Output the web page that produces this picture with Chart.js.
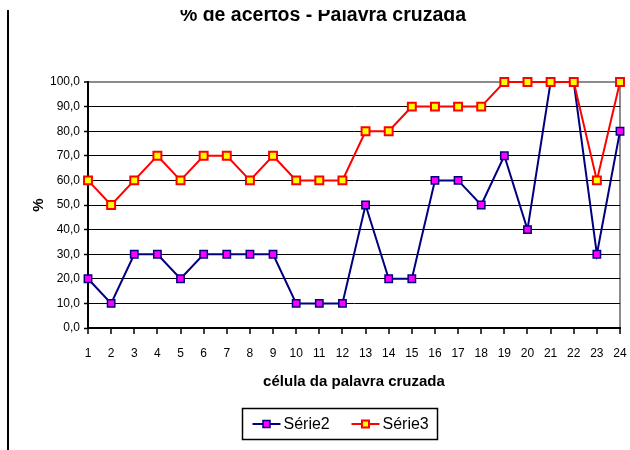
<!DOCTYPE html>
<html><head><meta charset="utf-8">
<style>html,body{margin:0;padding:0;background:#fff;}canvas{display:block;}</style>
<script src="https://cdn.jsdelivr.net/npm/chart.js@4.4.1/dist/chart.umd.min.js"></script>
</head><body>
<canvas id="c" width="630" height="450"></canvas>
<script>
const categories = ['1','2','3','4','5','6','7','8','9','10','11','12','13','14','15','16','17','18','19','20','21','22','23','24'];
const serie2 = [20,10,30,30,20,30,30,30,30,10,10,10,50,20,20,60,60,50,70,40,100,100,30,80];
const serie3 = [60,50,60,70,60,70,70,60,70,60,60,60,80,80,90,90,90,90,100,100,100,100,60,100];
const seriesNames = ['Série2','Série3'];
const chartTitle = '% de acertos - Palavra cruzada';
const xTitle = 'célula da palavra cruzada';
const yTitle = '%';
const yMin = 0, yMax = 100, yStep = 10;

const FONT = "'Liberation Sans', Arial, sans-serif";

const decor = {
  id: 'decor',
  afterDraw(chart) {
    const ctx = chart.ctx;
    ctx.save();
    // white band clipping the title top
    ctx.fillStyle = '#fff';
    ctx.fillRect(0, 0, chart.width, 10);
    // left frame line
    ctx.strokeStyle = '#000';
    ctx.lineWidth = 2;
    ctx.beginPath();
    ctx.moveTo(8, 10);
    ctx.lineTo(8, chart.height);
    ctx.stroke();
    // legend box
    const x0 = 242.5, y0 = 408.5, w = 195, h = 31;
    ctx.lineWidth = 1.5;
    ctx.strokeRect(x0, y0, w, h);
    const cy = y0 + h / 2;
    const offsets = [0, 99];
    chart.data.datasets.forEach((ds, i) => {
      const lx = x0 + 10 + offsets[i];
      ctx.strokeStyle = ds.borderColor;
      ctx.lineWidth = 2;
      ctx.beginPath();
      ctx.moveTo(lx, cy);
      ctx.lineTo(lx + 28, cy);
      ctx.stroke();
      const s = 7;
      ctx.fillStyle = ds.pointBackgroundColor;
      ctx.fillRect(lx + 14 - s / 2, cy - s / 2, s, s);
      ctx.strokeStyle = ds.pointBorderColor;
      ctx.lineWidth = ds.pointBorderWidth;
      ctx.strokeRect(lx + 14 - s / 2, cy - s / 2, s, s);
      ctx.fillStyle = '#000';
      ctx.font = '16px ' + FONT;
      ctx.textAlign = 'left';
      ctx.textBaseline = 'middle';
      ctx.fillText(ds.label, lx + 31, cy + 1);
    });
    ctx.restore();
  }
};

new Chart(document.getElementById('c'), {
  type: 'line',
  data: {
    labels: categories,
    datasets: [
      {
        label: seriesNames[0], data: serie2, order: 1,
        borderColor: '#000080', borderWidth: 2,
        pointStyle: 'rect', pointRadius: 5.2, pointBackgroundColor: '#ff00ff',
        pointBorderColor: '#000080', pointBorderWidth: 1.5, tension: 0, clip: false
      },
      {
        label: seriesNames[1], data: serie3, order: 0,
        borderColor: '#ff0000', borderWidth: 2,
        pointStyle: 'rect', pointRadius: 5.6, pointBackgroundColor: '#ffff00',
        pointBorderColor: '#ff0000', pointBorderWidth: 2, tension: 0, clip: false
      }
    ]
  },
  options: {
    responsive: false, animation: false, devicePixelRatio: 1,
    layout: { padding: { left: 26, right: 10, top: 0, bottom: 55 } },
    plugins: {
      legend: { display: false },
      tooltip: { enabled: false },
      title: {
        display: true, text: chartTitle, color: '#000',
        font: { family: FONT, size: 19.5, weight: 'bold' },
        padding: { top: 4.3, bottom: 54.3 }
      }
    },
    scales: {
      x: {
        type: 'category', offset: false,
        afterFit(s) { s.height = 67; s.paddingLeft = 0; s.paddingRight = 0; },
        border: { display: true, color: '#000', width: 2 },
        grid: {
          drawOnChartArea: true, tickLength: 6, tickColor: '#000', tickWidth: 1.5,
          color: (c) => c.index === categories.length - 1 ? '#8c8c8c' : 'rgba(0,0,0,0)',
          lineWidth: 2
        },
        ticks: { color: '#000', font: { family: FONT, size: 12 }, padding: 12, maxRotation: 0, autoSkip: false },
        title: { display: true, text: xTitle, color: '#000', font: { family: FONT, size: 15, weight: 'bold' }, padding: { top: 16, bottom: 4 } }
      },
      y: {
        min: yMin, max: yMax,
        afterFit(s) { s.width = 62; s.paddingTop = 0; s.paddingBottom = 0; },
        border: { display: true, color: '#000', width: 2 },
        grid: {
          tickLength: 4, tickColor: '#000', tickWidth: 1.5,
          color: (c) => c.tick && c.tick.value === yMax ? '#8c8c8c' : '#000',
          lineWidth: (c) => c.tick && c.tick.value === yMax ? 2 : 1
        },
        ticks: {
          stepSize: yStep, color: '#000', font: { family: FONT, size: 12 }, padding: 4,
          callback: (v) => v.toFixed(1).replace('.', ',')
        },
        title: { display: true, text: yTitle, color: '#000', font: { family: FONT, size: 15, weight: 'bold' }, padding: { top: 4, bottom: 4 } }
      }
    }
  },
  plugins: [decor]
});
</script>
</body></html>
